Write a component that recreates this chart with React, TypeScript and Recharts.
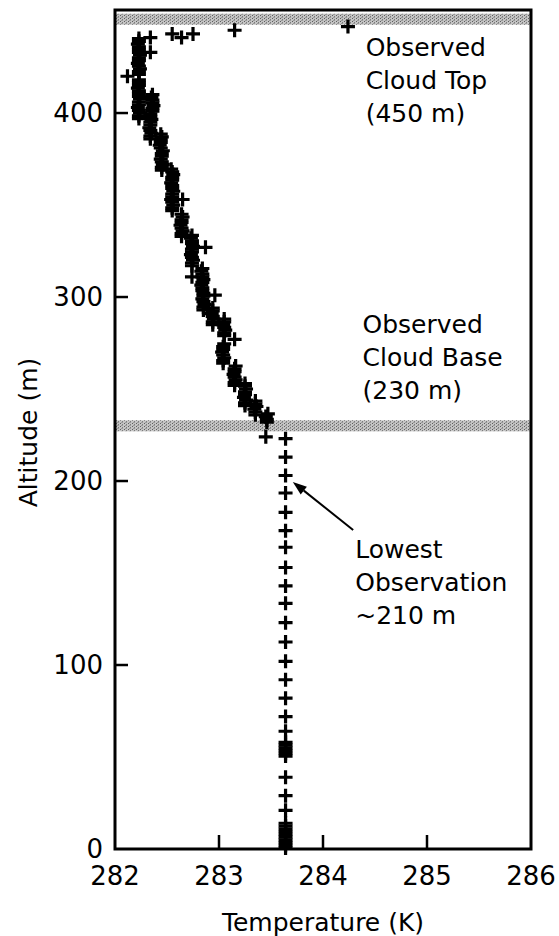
import React from 'react';
import { ScatterChart, Scatter, XAxis, YAxis, ReferenceArea, ReferenceDot, ReferenceLine, Label } from 'recharts';

const FONT = '"DejaVu Sans", Verdana, sans-serif';

const xTicks = [282, 283, 284, 285, 286];
const yTicks = [0, 100, 200, 300, 400];
const rightTicks = [100, 200, 300, 400];

const cloudBase = [227, 233];
const cloudTop = [448, 454];

// temperature (K), altitude (m) inside and just below the cloud
const cloudProfile: [number, number][] = [
  [283.45, 224],
  [283.46, 232], [283.46, 233.5], [283.45, 235], [283.47, 236.5],
  [283.35, 236], [283.35, 237.5], [283.34, 239], [283.36, 240.5], [283.35, 242], [283.35, 243.5],
  [283.25, 241], [283.25, 242.5], [283.26, 244], [283.24, 245.5], [283.25, 247], [283.25, 248.5], [283.26, 250], [283.25, 251.5], [283.25, 253],
  [283.15, 252], [283.15, 253.5], [283.16, 255], [283.15, 256.5], [283.14, 258], [283.15, 259.5], [283.15, 261], [283.16, 262.5],
  [283.04, 264], [283.04, 265.5], [283.05, 267], [283.04, 268.5], [283.03, 270], [283.04, 271.5], [283.04, 273], [283.05, 274.5],
  [283.15, 277],
  [283.05, 279], [283.05, 280.5], [283.06, 282], [283.05, 283.5], [283.04, 285], [283.05, 286.5], [283.05, 288],
  [282.94, 285], [282.94, 286.5], [282.95, 288], [282.94, 289.5], [282.93, 291], [282.94, 292.5], [282.94, 294],
  [282.85, 293], [282.85, 294.5], [282.86, 296], [282.85, 297.5], [282.84, 299], [282.85, 300.5], [282.85, 302],
  [282.96, 301],
  [282.84, 303.5], [282.84, 305], [282.83, 306.5], [282.84, 308], [282.85, 309.5], [282.84, 311], [282.84, 312.5], [282.83, 314], [282.84, 315.5],
  [282.74, 311],
  [282.74, 317], [282.74, 318.5], [282.75, 320], [282.74, 321.5], [282.73, 323], [282.74, 324.5], [282.74, 326], [282.75, 327.5], [282.74, 329], [282.74, 330.5], [282.73, 332], [282.74, 333.5],
  [282.87, 327],
  [282.64, 333], [282.64, 334.5], [282.65, 336], [282.64, 337.5], [282.63, 339], [282.64, 340.5], [282.64, 342], [282.65, 343.5], [282.64, 345],
  [282.55, 347], [282.55, 348.5], [282.56, 350], [282.55, 351.5], [282.54, 353], [282.55, 354.5], [282.55, 356], [282.56, 357.5],
  [282.55, 359], [282.55, 360.5], [282.54, 362], [282.55, 363.5], [282.55, 365], [282.56, 366.5], [282.55, 368], [282.54, 369.5],
  [282.65, 353],
  [282.45, 369], [282.45, 370.5], [282.46, 372], [282.45, 373.5], [282.44, 375], [282.45, 376.5], [282.45, 378], [282.46, 379.5],
  [282.44, 381], [282.43, 382.5], [282.44, 384], [282.44, 385.5], [282.45, 387], [282.44, 388.5],
  [282.34, 386], [282.34, 387.5], [282.35, 389], [282.34, 390.5], [282.33, 392], [282.34, 393.5], [282.34, 395], [282.35, 396.5], [282.34, 398], [282.34, 399.5],
  [282.36, 401], [282.36, 402.5], [282.37, 404], [282.36, 405.5], [282.36, 407], [282.35, 408.5], [282.36, 410],
  [282.23, 397], [282.23, 398.5], [282.24, 400], [282.23, 401.5], [282.22, 403], [282.23, 404.5], [282.23, 406], [282.24, 407.5],
  [282.23, 409], [282.23, 410.5], [282.23, 412], [282.22, 413.5], [282.23, 415], [282.23, 416.5], [282.23, 418],
  [282.12, 420],
  [282.23, 421], [282.23, 422.5], [282.24, 424], [282.23, 425.5], [282.22, 427], [282.23, 428.5], [282.23, 430],
  [282.24, 431.5], [282.23, 433], [282.23, 434.5], [282.23, 436], [282.22, 437.5], [282.23, 439], [282.23, 440.5],
  [282.34, 433], [282.34, 441],
  [282.55, 443], [282.64, 441], [282.75, 443], [283.15, 445], [284.24, 447],
];

// sub-cloud column, constant temperature
const columnTemp = 283.64;
const columnAlt = [223, 213, 203, 193.5, 183, 173, 164, 153, 143, 133.5, 123, 112.5, 102, 92, 82, 72, 64,
  58, 56.5, 55, 53.5, 52, 50.5, 39, 29, 21, 14, 12.5, 11, 9.5, 8, 6.5, 5, 3.5, 2, 0.5];

const profileData = cloudProfile.map(([t, a]) => ({ t, a }));
const columnData = columnAlt.map((a) => ({ t: columnTemp, a }));

function Plus(props: any) {
  const { cx, cy } = props;
  if (cx == null || cy == null) return null;
  return (
    <path d={`M${cx - 7},${cy}H${cx + 7}M${cx},${cy - 7}V${cy + 7}`} stroke="#000" strokeWidth={3.2} fill="none" />
  );
}

function Band(id: string) {
  return (p: any) => (
    <g>
      <defs>
        <pattern id={id} width="4" height="3" patternUnits="userSpaceOnUse">
          <rect width="4" height="3" fill="#c4c4c4" />
          <rect x="0" y="0" width="1" height="1" fill="#5e5e5e" />
          <rect x="2" y="1" width="1" height="1" fill="#7c7c7c" />
          <rect x="1" y="2" width="2" height="1" fill="#9a9a9a" />
        </pattern>
      </defs>
      <rect x={p.x} y={p.y} width={p.width} height={p.height} fill={`url(#${id})`} />
    </g>
  );
}

function note(lines: string[]) {
  return (p: any) => (
    <text x={p.cx} y={p.cy} fontFamily={FONT} fontSize={25} fill="#000">
      {lines.map((l, i) => (
        <tspan key={i} x={p.cx} dy={i === 0 ? 0 : 33}>{l}</tspan>
      ))}
    </text>
  );
}

function Arrow(p: any) {
  const { x1, y1, x2, y2 } = p;
  const ang = Math.atan2(y2 - y1, x2 - x1);
  const len = 14, half = 5;
  const bx = x2 - len * Math.cos(ang), by = y2 - len * Math.sin(ang);
  const px = -Math.sin(ang) * half, py = Math.cos(ang) * half;
  return (
    <g>
      <line x1={x1} y1={y1} x2={bx} y2={by} stroke="#000" strokeWidth={2} />
      <polygon points={`${x2},${y2} ${bx + px},${by + py} ${bx - px},${by - py}`} fill="#000" />
    </g>
  );
}

const LeftTick = (p: any) => {
  const v = p.payload.value;
  return (
    <g>
      {v !== 0 && <line x1={p.x} x2={p.x + 13} y1={p.y} y2={p.y} stroke="#000" strokeWidth={2.5} />}
      <text x={p.x - 12} y={p.y} textAnchor="end" dominantBaseline="central" fontFamily={FONT} fontSize={26} fill="#000">{v}</text>
    </g>
  );
};

const RightTick = (p: any) => (
  <line x1={p.x} x2={p.x - 14} y1={p.y} y2={p.y} stroke="#000" strokeWidth={2.5} />
);

const BottomTick = (p: any) => {
  const v = p.payload.value;
  return (
    <g>
      {v !== 282 && v !== 286 && <line x1={p.x} x2={p.x} y1={p.y} y2={p.y - 14} stroke="#000" strokeWidth={2.5} />}
      <text x={p.x} y={p.y + 27} textAnchor="middle" dominantBaseline="central" fontFamily={FONT} fontSize={26} fill="#000">{v}</text>
    </g>
  );
};

const YTitle = (p: any) => {
  const vb = p.viewBox || { x: 0, y: 10, width: 115, height: 839 };
  const cx = vb.x + 28;
  const cy = vb.y + vb.height / 2 + 3;
  return (
    <text transform={`translate(${cx},${cy}) rotate(-90)`} textAnchor="middle" dominantBaseline="central" fontFamily={FONT} fontSize={25} fill="#000">
      Altitude (m)
    </text>
  );
};

export default function App() {
  return (
    <div style={{ position: 'absolute', left: 0, top: 0, width: 559, height: 936, background: '#fff' }}>
      <ScatterChart width={559} height={936} margin={{ top: 10, right: 0, bottom: 0, left: 0 }}>
        <XAxis
          type="number"
          dataKey="t"
          domain={[282, 286]}
          ticks={xTicks}
          height={87}
          axisLine={false}
          tickLine={false}
          tickSize={0}
          tickMargin={0}
          tick={BottomTick}
          interval={0}
        >
          <Label value="Temperature (K)" position="insideBottom" offset={5} style={{ fontFamily: FONT, fontSize: 25, fill: '#000' }} />
        </XAxis>
        <YAxis
          type="number"
          dataKey="a"
          domain={[0, 456]}
          ticks={yTicks}
          width={115}
          axisLine={false}
          tickLine={false}
          tickSize={0}
          tickMargin={0}
          tick={LeftTick}
          interval={0}
        >
          <Label content={YTitle} />
        </YAxis>
        <YAxis
          yAxisId="r"
          orientation="right"
          type="number"
          domain={[0, 456]}
          ticks={rightTicks}
          width={28}
          axisLine={false}
          tickLine={false}
          tickSize={0}
          tickMargin={0}
          tick={RightTick}
          interval={0}
        />
        <Scatter data={columnData} shape={Plus} isAnimationActive={false} />
        <Scatter data={profileData} shape={Plus} isAnimationActive={false} />
        <ReferenceArea y1={cloudBase[0]} y2={cloudBase[1]} x1={282} x2={286} shape={Band('bandBase')} />
        <ReferenceArea y1={cloudTop[0]} y2={cloudTop[1]} x1={282} x2={286} shape={Band('bandTop')} />
        <ReferenceLine segment={[{ x: 284.29, y: 173.4 }, { x: 283.71, y: 199.5 }]} shape={Arrow} />
        <ReferenceDot x={284.41} y={431} r={0} shape={note(['Observed', 'Cloud Top', '(450 m)'])} />
        <ReferenceDot x={284.38} y={280.4} r={0} shape={note(['Observed', 'Cloud Base', '(230 m)'])} />
        <ReferenceDot x={284.31} y={158.2} r={0} shape={note(['Lowest', 'Observation', '~210 m'])} />
        <ReferenceArea x1={282} x2={286} y1={0} y2={456} fill="none" stroke="#000" strokeWidth={3} />
      </ScatterChart>
    </div>
  );
}
